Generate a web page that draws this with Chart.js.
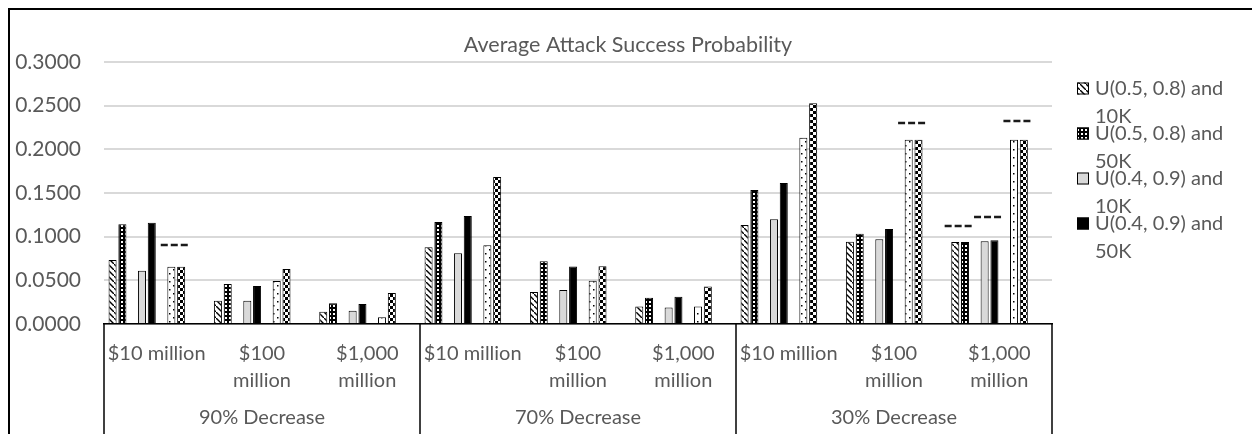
<!DOCTYPE html>
<html>
<head>
<meta charset="utf-8">
<script src="https://cdn.jsdelivr.net/npm/chart.js@4"></script>
<style>
html, body { margin: 0; padding: 0; background: #fff; }
#wrap { position: relative; width: 1252px; height: 434px; }
</style>
</head>
<body>
<div id="wrap"><canvas id="aspChart" width="1252" height="434"></canvas></div>
<script>
// Categories: budget level inside each price-decrease group
const budgets = ['$10 million', ['$100', 'million'], ['$1,000', 'million']];
const decreases = ['90% Decrease', '70% Decrease', '30% Decrease'];
const categories = [...budgets, ...budgets, ...budgets];
const chartTitle = 'Average Attack Success Probability';

// Axis range
const yMin = 0;
const yMax = 0.3;
const yStep = 0.05;

// Average attack success probability per series
const u0508_10k = [0.0733, 0.0267, 0.0141, 0.0878, 0.0366, 0.0199, 0.1134, 0.0943, 0.0939];
const u0508_50k = [0.1142, 0.0458, 0.0237, 0.1168, 0.0718, 0.0302, 0.1535, 0.1034, 0.0939];
const u0409_10k = [0.0610, 0.0267, 0.0152, 0.0810, 0.0390, 0.0190, 0.1199, 0.0970, 0.0947];
const u0409_50k = [0.1160, 0.0435, 0.0229, 0.1237, 0.0657, 0.0313, 0.1615, 0.1088, 0.0958];
const series5   = [0.0656, 0.0492, 0.0077, 0.0901, 0.0496, 0.0199, 0.2134, 0.2111, 0.2111];
const series6   = [0.0656, 0.0630, 0.0355, 0.1683, 0.0661, 0.0428, 0.2527, 0.2111, 0.2111];
const emptySlot = [null, null, null, null, null, null, null, null, null];

// Dashed reference marks above bar pairs
const markPair1 = [null, null, null, null, null, null, null, null, 0.1122];
const markPair2 = [null, null, null, null, null, null, null, null, 0.1225];
const markPair3 = [0.0905, null, null, null, null, null, null, 0.2305, 0.2328];

const FONT = 'Lato, "Open Sans", sans-serif';
const GREY_TEXT = '#595959';

const ctx = document.getElementById('aspChart').getContext('2d');

function tile(size, paint) {
  const c = document.createElement('canvas');
  c.width = size; c.height = size;
  const t = c.getContext('2d');
  paint(t, size);
  return ctx.createPattern(c, 'repeat');
}

const hatch = tile(6, (t, s) => {
  t.fillStyle = '#fff'; t.fillRect(0, 0, s, s);
  t.strokeStyle = '#000'; t.lineWidth = 1.4;
  t.beginPath(); t.moveTo(-1, -1); t.lineTo(s + 1, s + 1); t.stroke();
});
const darkGrid = tile(4, (t, s) => {
  t.fillStyle = '#000'; t.fillRect(0, 0, s, s);
  t.fillStyle = '#fff'; t.fillRect(1, 1, 2, 2);
});
const sparseDots = tile(8, (t, s) => {
  t.fillStyle = '#fff'; t.fillRect(0, 0, s, s);
  t.fillStyle = '#000'; t.fillRect(1, 1, 1.5, 1.5); t.fillRect(5, 5, 1.5, 1.5);
});
const checker = tile(6, (t, s) => {
  t.fillStyle = '#fff'; t.fillRect(0, 0, s, s);
  t.fillStyle = '#000'; t.fillRect(0, 0, 3, 3); t.fillRect(3, 3, 3, 3);
});

function bars(label, data, fill) {
  return { label, data, backgroundColor: fill, borderColor: '#000', borderWidth: 1 };
}

const datasets = [
  bars('U(0.5, 0.8) and 10K', u0508_10k, hatch),
  bars('U(0.5, 0.8) and 50K', u0508_50k, darkGrid),
  bars('', emptySlot, 'transparent'),
  bars('U(0.4, 0.9) and 10K', u0409_10k, '#d9d9d9'),
  bars('U(0.4, 0.9) and 50K', u0409_50k, '#000'),
  bars('', emptySlot, 'transparent'),
  bars('Series 5', series5, sparseDots),
  bars('Series 6', series6, checker),
  bars('', emptySlot, 'transparent'),
  bars('', emptySlot, 'transparent')
];

// [values, left bar dataset, right bar dataset]
const dashSets = [[markPair1, 0, 1], [markPair2, 3, 4], [markPair3, 6, 7]];

const dashMarks = {
  id: 'dashMarks',
  afterDatasetsDraw(chart) {
    const c = chart.ctx, y = chart.scales.y;
    c.save();
    c.strokeStyle = '#1a1a1a';
    c.lineWidth = 2.5;
    c.setLineDash([7, 3]);
    dashSets.forEach(([values, a, b]) => {
      const ma = chart.getDatasetMeta(a).data, mb = chart.getDatasetMeta(b).data;
      values.forEach((v, k) => {
        if (v == null) return;
        const cx = (ma[k].x + mb[k].x) / 2 - 2;
        const py = Math.round(y.getPixelForValue(v));
        c.beginPath(); c.moveTo(cx - 13.5, py); c.lineTo(cx + 13.5, py); c.stroke();
      });
    });
    c.restore();
  }
};

// Title centred on the whole canvas, group separators, outer border
const frame = {
  id: 'frame',
  afterDraw(chart) {
    const c = chart.ctx, area = chart.chartArea, x = chart.scales.x;
    const n = categories.length, per = budgets.length;
    const edges = [area.left];
    for (let g = per; g < n; g += per) {
      edges.push((x.getPixelForTick(g - 1) + x.getPixelForTick(g)) / 2);
    }
    edges.push(area.right);
    c.save();
    c.font = '21.5px ' + FONT;
    c.fillStyle = GREY_TEXT;
    c.textAlign = 'center';
    c.textBaseline = 'middle';
    c.fillText(chartTitle, chart.width / 2 + 2, 45);
    c.strokeStyle = '#000';
    c.lineWidth = 1.5;
    edges.forEach(px => {
      c.beginPath(); c.moveTo(px, area.bottom); c.lineTo(px, chart.height); c.stroke();
    });
    c.lineWidth = 2;
    c.beginPath(); c.moveTo(9, chart.height); c.lineTo(9, 9); c.lineTo(chart.width, 9); c.stroke();
    c.restore();
  }
};

// Legend beside the plot; only the first four entries fit
const sideLegend = {
  id: 'sideLegend',
  afterDraw(chart) {
    const c = chart.ctx;
    const items = chart.data.datasets.filter(d => d.label).slice(0, 4);
    c.save();
    c.font = '20px ' + FONT;
    c.textBaseline = 'middle';
    items.forEach((d, i) => {
      const top = 88.5 + i * 45;
      c.fillStyle = d.backgroundColor;
      c.fillRect(1077, top - 6, 12, 12);
      c.strokeStyle = '#000'; c.lineWidth = 1;
      c.strokeRect(1077.5, top - 5.5, 11, 11);
      c.fillStyle = GREY_TEXT;
      const m = d.label.match(/^(.*and) (.*)$/);
      c.fillText(m[1], 1095, top);
      c.fillText(m[2], 1095, top + 28);
    });
    c.restore();
  }
};

new Chart(ctx, {
  type: 'bar',
  data: { labels: categories, datasets },
  plugins: [dashMarks, frame, sideLegend],
  options: {
    responsive: false,
    animation: false,
    devicePixelRatio: 1,
    categoryPercentage: 0.93,
    barPercentage: 0.82,
    layout: { padding: { top: 62, right: 200, bottom: 0, left: 0 } },
    plugins: {
      legend: { display: false },
      tooltip: { enabled: false },
      title: { display: false }
    },
    scales: {
      y: {
        min: yMin, max: yMax,
        afterFit: s => { s.width = 104; },
        ticks: {
          stepSize: yStep,
          padding: 23,
          color: GREY_TEXT,
          font: { family: FONT, size: 21 },
          callback: v => v.toFixed(4)
        },
        grid: { color: '#d9d9d9', lineWidth: 2, drawTicks: false },
        border: { display: false }
      },
      x: {
        weight: 0,
        afterFit: s => { s.height = 70; },
        ticks: {
          autoSkip: false, maxRotation: 0, padding: 16,
          color: GREY_TEXT,
          font: { family: FONT, size: 20, lineHeight: 1.35 }
        },
        grid: { display: false, drawTicks: false },
        border: { color: '#000', width: 1.5 }
      },
      x2: {
        type: 'category',
        position: 'bottom',
        weight: 1,
        labels: decreases,
        offset: true,
        afterFit: s => { s.height = 40; },
        ticks: {
          padding: 11,
          color: GREY_TEXT,
          font: { family: FONT, size: 20, lineHeight: 1.29 }
        },
        grid: { display: false, drawTicks: false },
        border: { display: false }
      }
    }
  }
});
</script>
</body>
</html>
